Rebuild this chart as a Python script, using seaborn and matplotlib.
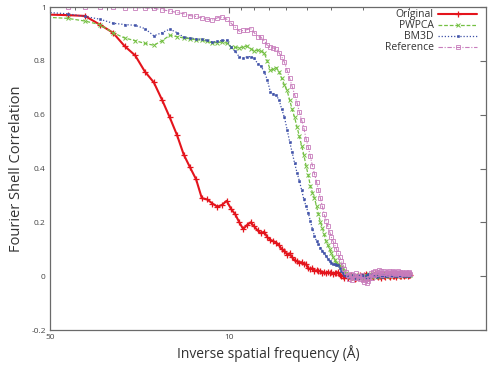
import numpy as np
import pandas as pd
import matplotlib
matplotlib.use("Agg")
import matplotlib.pyplot as plt
from matplotlib.ticker import FixedLocator, FixedFormatter, NullFormatter
import seaborn as sns

# ---- data: FSC curves sampled at Fourier shells k / box (k = 5 .. 130) ----
box_size = 256
first_shell = 5

original = [
    0.972, 0.970, 0.967, 0.935, 0.905, 0.855, 0.820, 0.760, 0.720, 0.655,
    0.590, 0.525, 0.452, 0.404, 0.360, 0.290, 0.285, 0.270, 0.258, 0.265,
    0.280, 0.250, 0.230, 0.200, 0.175, 0.190, 0.200, 0.185, 0.170, 0.160,
    0.165, 0.145, 0.135, 0.130, 0.125, 0.115, 0.100, 0.095, 0.080, 0.085,
    0.070, 0.060, 0.055, 0.050, 0.052, 0.045, 0.044, 0.030, 0.026, 0.030,
    0.020, 0.022, 0.018, 0.020, 0.013, 0.015, 0.010, 0.016, 0.012, 0.014,
    0.008, 0.012, 0.010, 0.015, 0.005, 0.002, 0.000, -0.005, 0.003, -0.008,
    0.002, 0.006, -0.004, 0.000, -0.010, -0.006, 0.004, -0.002, 0.005, 0.000,
    -0.007, 0.003, 0.008, -0.003, 0.002, -0.005, 0.006, 0.000, -0.004, 0.004,
    0.010, 0.002, -0.003, 0.005, 0.001, -0.006, 0.003, 0.007, 0.000, -0.002,
    0.004, 0.006, 0.001, -0.004, 0.003, 0.008, 0.002, 0.000, 0.005, -0.002,
    0.004, 0.009, 0.003, 0.000, 0.006, 0.002, 0.007, 0.004, -0.001, 0.005,
    0.003, 0.008, 0.002, 0.006, 0.004, 0.003,
]

pwpca = [
    0.962, 0.958, 0.948, 0.935, 0.905, 0.885, 0.875, 0.865, 0.858, 0.875,
    0.895, 0.890, 0.885, 0.882, 0.878, 0.877, 0.872, 0.867, 0.868, 0.870,
    0.866, 0.852, 0.850, 0.848, 0.852, 0.855, 0.845, 0.838, 0.840, 0.836,
    0.830, 0.800, 0.765, 0.770, 0.775, 0.760, 0.735, 0.710, 0.690, 0.655,
    0.620, 0.590, 0.555, 0.520, 0.485, 0.450, 0.410, 0.375, 0.335, 0.310,
    0.290, 0.260, 0.230, 0.200, 0.180, 0.155, 0.130, 0.115, 0.100, 0.085,
    0.070, 0.060, 0.050, 0.045, 0.040, 0.035, 0.030, 0.020, 0.010, 0.005,
    0.000, -0.004, 0.003, -0.006, 0.002, -0.008, -0.003, 0.004, -0.005, 0.002,
    -0.010, -0.004, 0.006, 0.000, -0.006, 0.008, 0.003, -0.002, 0.005, 0.010,
    0.004, -0.003, 0.006, 0.002, 0.008, 0.000, 0.005, 0.010, 0.004, 0.007,
    0.002, 0.009, 0.005, 0.000, 0.006, 0.011, 0.004, 0.008, 0.003, 0.006,
    0.010, 0.005, 0.002, 0.008, 0.012, 0.006, 0.004, 0.009, 0.005, 0.007,
    0.003, 0.008, 0.006, 0.004, 0.009, 0.005,
]

bm3d = [
    0.980, 0.975, 0.965, 0.955, 0.940, 0.935, 0.932, 0.920, 0.893, 0.905,
    0.918, 0.905, 0.888, 0.885, 0.882, 0.880, 0.876, 0.870, 0.872, 0.876,
    0.877, 0.850, 0.835, 0.815, 0.810, 0.815, 0.816, 0.810, 0.790, 0.780,
    0.760, 0.730, 0.685, 0.678, 0.672, 0.655, 0.620, 0.590, 0.545, 0.500,
    0.460, 0.420, 0.385, 0.355, 0.320, 0.285, 0.260, 0.235, 0.205, 0.175,
    0.150, 0.130, 0.120, 0.105, 0.095, 0.085, 0.075, 0.065, 0.055, 0.050,
    0.045, 0.044, 0.042, 0.040, 0.030, 0.020, 0.010, 0.005, 0.000, -0.004,
    0.002, -0.006, -0.002, 0.004, -0.008, -0.003, 0.003, -0.005, 0.001, 0.006,
    -0.004, 0.000, -0.008, 0.004, 0.007, -0.002, 0.003, 0.008, 0.000, 0.005,
    0.002, -0.003, 0.004, 0.008, 0.001, 0.005, -0.002, 0.003, 0.006, 0.002,
    0.000, 0.004, 0.007, 0.003, -0.001, 0.005, 0.002, 0.006, 0.003, 0.000,
    0.004, 0.002, 0.006, 0.003, 0.001, 0.005, 0.003, 0.002, 0.006, 0.004,
    0.001, 0.005, 0.003, 0.002, 0.004, 0.003,
]

reference = [
    1.000, 1.000, 1.000, 0.999, 0.999, 0.998, 0.998, 0.997, 0.995, 0.990,
    0.985, 0.980, 0.975, 0.968, 0.965, 0.960, 0.955, 0.952, 0.960, 0.963,
    0.955, 0.940, 0.925, 0.910, 0.913, 0.916, 0.920, 0.905, 0.890, 0.888,
    0.875, 0.858, 0.850, 0.848, 0.845, 0.830, 0.815, 0.795, 0.765, 0.735,
    0.705, 0.675, 0.645, 0.610, 0.580, 0.550, 0.510, 0.480, 0.445, 0.410,
    0.380, 0.350, 0.320, 0.290, 0.260, 0.230, 0.205, 0.185, 0.165, 0.145,
    0.130, 0.115, 0.100, 0.085, 0.070, 0.056, 0.040, 0.025, 0.015, 0.005,
    -0.010, 0.008, -0.015, 0.005, -0.005, 0.012, -0.008, 0.002, -0.012, 0.006,
    -0.015, -0.022, -0.010, -0.025, -0.018, -0.005, 0.010, -0.008, 0.015, 0.005,
    0.020, 0.008, 0.015, 0.022, 0.010, 0.018, 0.005, 0.012, 0.020, 0.010,
    0.016, 0.008, 0.018, 0.012, 0.006, 0.015, 0.020, 0.010, 0.014, 0.008,
    0.012, 0.018, 0.010, 0.015, 0.006, 0.012, 0.016, 0.009, 0.013, 0.010,
    0.015, 0.008, 0.012, 0.010, 0.014, 0.009,
]

series_labels = ["Original", "PWPCA", "BM3D", "Reference"]
y_ticks = [-0.2, 0, 0.2, 0.4, 0.6, 0.8, 1]
y_tick_labels = ["-0.2", "0", "0.2", "0.4", "0.6", "0.8", "1"]
x_major_res = [50, 10]          # resolution in Angstrom (labelled)
x_minor_res = [40, 30, 20, 9, 8, 7, 6, 5, 4, 3, 2]

# ---- figure ----
sns.set_style("white")
plt.rcParams["font.family"] = ["Open Sans", "DejaVu Sans"]

fig = plt.figure(figsize=(4.88, 3.71), dpi=100)
ax = fig.add_axes([0.1025, 0.1105, 0.893, 0.8705])

styles = {
    "Original": dict(color="#e4141c", linestyle="-", linewidth=1.5, marker="+",
                     markersize=4, markeredgewidth=0.9, markeredgecolor="#e4141c"),
    "PWPCA": dict(color="#74c043", linestyle=(0, (3, 1.5)), linewidth=0.9, marker="x",
                  markersize=2.5, markeredgewidth=0.7, markeredgecolor="#74c043"),
    "BM3D": dict(color="#3f51a8", linestyle=(0, (1, 1.5)), linewidth=0.9, marker="s",
                 markersize=1.8, markeredgewidth=0.4, markeredgecolor="#3f51a8"),
    "Reference": dict(color="#c87cbc", linestyle=(0, (4, 1.5, 1, 1.5)), linewidth=0.8,
                      marker="s", markersize=2.8, markerfacecolor="none",
                      markeredgewidth=0.6, markeredgecolor="#c87cbc"),
}

for label, vals in zip(series_labels, [original, pwpca, bm3d, reference]):
    shells = np.arange(first_shell, first_shell + len(vals))
    df = pd.DataFrame({"freq": shells / box_size, "fsc": vals})
    sns.lineplot(data=df, x="freq", y="fsc", ax=ax, estimator=None, sort=True,
                 label=label, **styles[label])

ax.set_xscale("log")
ax.set_xlim(1 / 50, 1.0)
ax.set_ylim(-0.2, 1.0)

ax.xaxis.set_major_locator(FixedLocator([1 / r for r in x_major_res]))
ax.xaxis.set_major_formatter(FixedFormatter([str(r) for r in x_major_res]))
ax.xaxis.set_minor_locator(FixedLocator([1 / r for r in x_minor_res]))
ax.xaxis.set_minor_formatter(NullFormatter())
ax.set_yticks(y_ticks)
ax.set_yticklabels(y_tick_labels)

axis_grey = "#6a6a6a"
for sp in ax.spines.values():
    sp.set_color(axis_grey)
    sp.set_linewidth(0.9)

ax.tick_params(axis="both", which="both", direction="in", top=True, right=True,
               color=axis_grey, labelsize=6, labelcolor="#444444", pad=3)
ax.tick_params(axis="both", which="major", length=4, width=0.8)
ax.tick_params(axis="x", which="minor", length=2.5, width=0.7)

ax.set_xlabel("Inverse spatial frequency (Å)", fontsize=10, color="#333333", labelpad=3)
ax.set_ylabel("Fourier Shell Correlation", fontsize=10.5, color="#333333", labelpad=5)

leg = ax.legend(loc="upper right", bbox_to_anchor=(0.995, 1.012), frameon=False,
                markerfirst=False, fontsize=7.5, handlelength=3.8, handletextpad=0.4,
                labelspacing=0.0, borderaxespad=0.2)
for t in leg.get_texts():
    t.set_ha("right")
    t.set_color("#333333")
leg._legend_box.align = "right"

fig.savefig("out.png", dpi=100)
